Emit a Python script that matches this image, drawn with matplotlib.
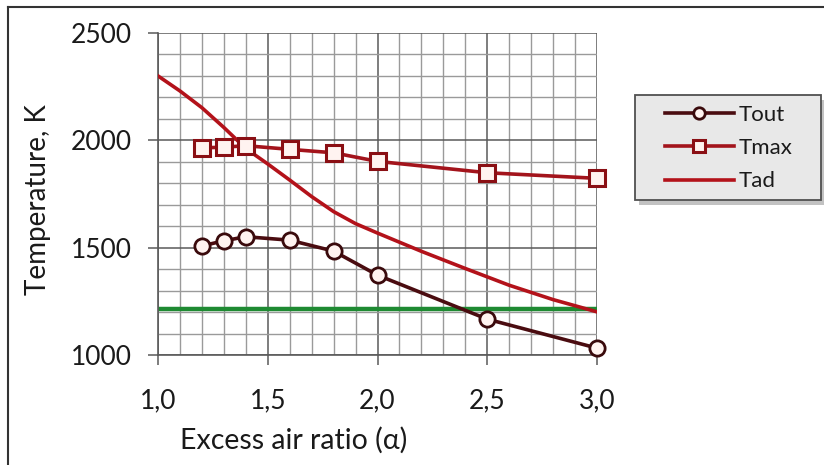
import matplotlib
matplotlib.use("Agg")
import matplotlib.pyplot as plt
from matplotlib.lines import Line2D
from matplotlib.patches import Rectangle
from matplotlib.ticker import MultipleLocator, FuncFormatter

# data
alpha_pts = [1.2, 1.3, 1.4, 1.6, 1.8, 2.0, 2.5, 3.0]
t_out = [1508, 1532, 1551, 1535, 1484, 1372, 1167, 1032]
t_max = [1965, 1968, 1975, 1958, 1942, 1902, 1849, 1823]

alpha_ad = [1.0, 1.1, 1.2, 1.3, 1.4, 1.5, 1.6, 1.7, 1.8, 1.9, 2.0, 2.2, 2.4, 2.6, 2.8, 3.0]
t_ad = [2300, 2230, 2152, 2060, 1962, 1890, 1815, 1738, 1668, 1612, 1568, 1483, 1403, 1325, 1258, 1201]

t_limit = 1215
limit_range = [1.0, 3.0]

plt.rcParams['font.family'] = ['Lato', 'DejaVu Sans']

fig = plt.figure(figsize=(8.24, 4.65), dpi=100)
ax = fig.add_axes([158/824, 1-355/465, (597-158)/824, (355-33)/465])

ax.set_xlim(1.0, 3.0)
ax.set_ylim(1000, 2500)

## grid
ax.xaxis.set_major_locator(MultipleLocator(0.5))
ax.xaxis.set_minor_locator(MultipleLocator(0.1))
ax.yaxis.set_major_locator(MultipleLocator(500))
ax.yaxis.set_minor_locator(MultipleLocator(100))
ax.grid(which='minor', color='#9a9a9a', linewidth=1.0)
ax.grid(which='major', color='#5a5a5a', linewidth=1.1)
ax.set_axisbelow(True)

ax.xaxis.set_major_formatter(FuncFormatter(lambda v, p: f"{v:.1f}".replace(".", ",")))
ax.tick_params(which='major', direction='out', length=7, width=1.1, color='#5a5a5a',
               labelsize=19, colors='#1a1a1a')
ax.tick_params(which='major', axis='x', pad=17)
ax.tick_params(which='major', axis='y', pad=12)
ax.tick_params(which='minor', length=0)
for s in ['top', 'right']:
    ax.spines[s].set_visible(False)
for s in ['left', 'bottom']:
    ax.spines[s].set_color('#5a5a5a')
    ax.spines[s].set_linewidth(1.2)

## series
ax.plot(limit_range, [t_limit, t_limit], color='#1e8a32', linewidth=3.2, zorder=2)
ax.plot(alpha_ad, t_ad, color='#b3121a', linewidth=2.6, label='Tad', zorder=3)
ax.plot(alpha_pts, t_max, color='#a3141c', linewidth=2.6, marker='s', markersize=11,
        markerfacecolor='#fff3f0', markeredgecolor='#8a0f14', markeredgewidth=2.2,
        label='Tmax', zorder=4, clip_on=False)
ax.plot(alpha_pts, t_out, color='#4a0c10', linewidth=2.6, marker='o', markersize=11,
        markerfacecolor='#fff3f0', markeredgecolor='#3a0a0c', markeredgewidth=2.0,
        label='Tout', zorder=5, clip_on=False)

## legend box drawn by hand (wide grey box with shadow), below the axes layer
W, H = 824, 465
fig.add_artist(Rectangle((639/W, 1-205/H), 186/W, 105/H, transform=fig.transFigure,
                         facecolor='#9a9a9a', edgecolor='none', alpha=0.6, zorder=-2))
fig.add_artist(Rectangle((635/W, 1-200/H), 186/W, 105/H, transform=fig.transFigure,
                         facecolor='#e8e8e8', edgecolor='#505050', linewidth=1.3, zorder=-1))

handles, labels = ax.get_legend_handles_labels()
order = [2, 1, 0]
leg = ax.legend([handles[i] for i in order], [labels[i] for i in order],
                loc='center left', bbox_to_anchor=(665/W, 1-148/H),
                bbox_transform=fig.transFigure, fontsize=16, frameon=False,
                handlelength=3.1, handletextpad=0.2, borderpad=0, labelspacing=0.6,
                borderaxespad=0, markerscale=0.75)
for t in leg.get_texts():
    t.set_color('#1a1a1a')

## labels
fig.text(38/W, 1-200/H, 'Temperature, K', rotation=90, ha='center', va='center',
         fontsize=20, color='#1a1a1a')
fig.text(294/W, 1-440/H, 'Excess air ratio (α)', ha='center', va='center',
         fontsize=20.5, color='#1a1a1a')

## picture frame (left and top)
fig.add_artist(Line2D([8/W, 8/W], [0, 1-7/H], transform=fig.transFigure,
                      color='#333333', linewidth=1.5))
fig.add_artist(Line2D([8/W, 1], [1-7/H, 1-7/H], transform=fig.transFigure,
                      color='#333333', linewidth=1.5))

fig.savefig('out.png', dpi=100)
